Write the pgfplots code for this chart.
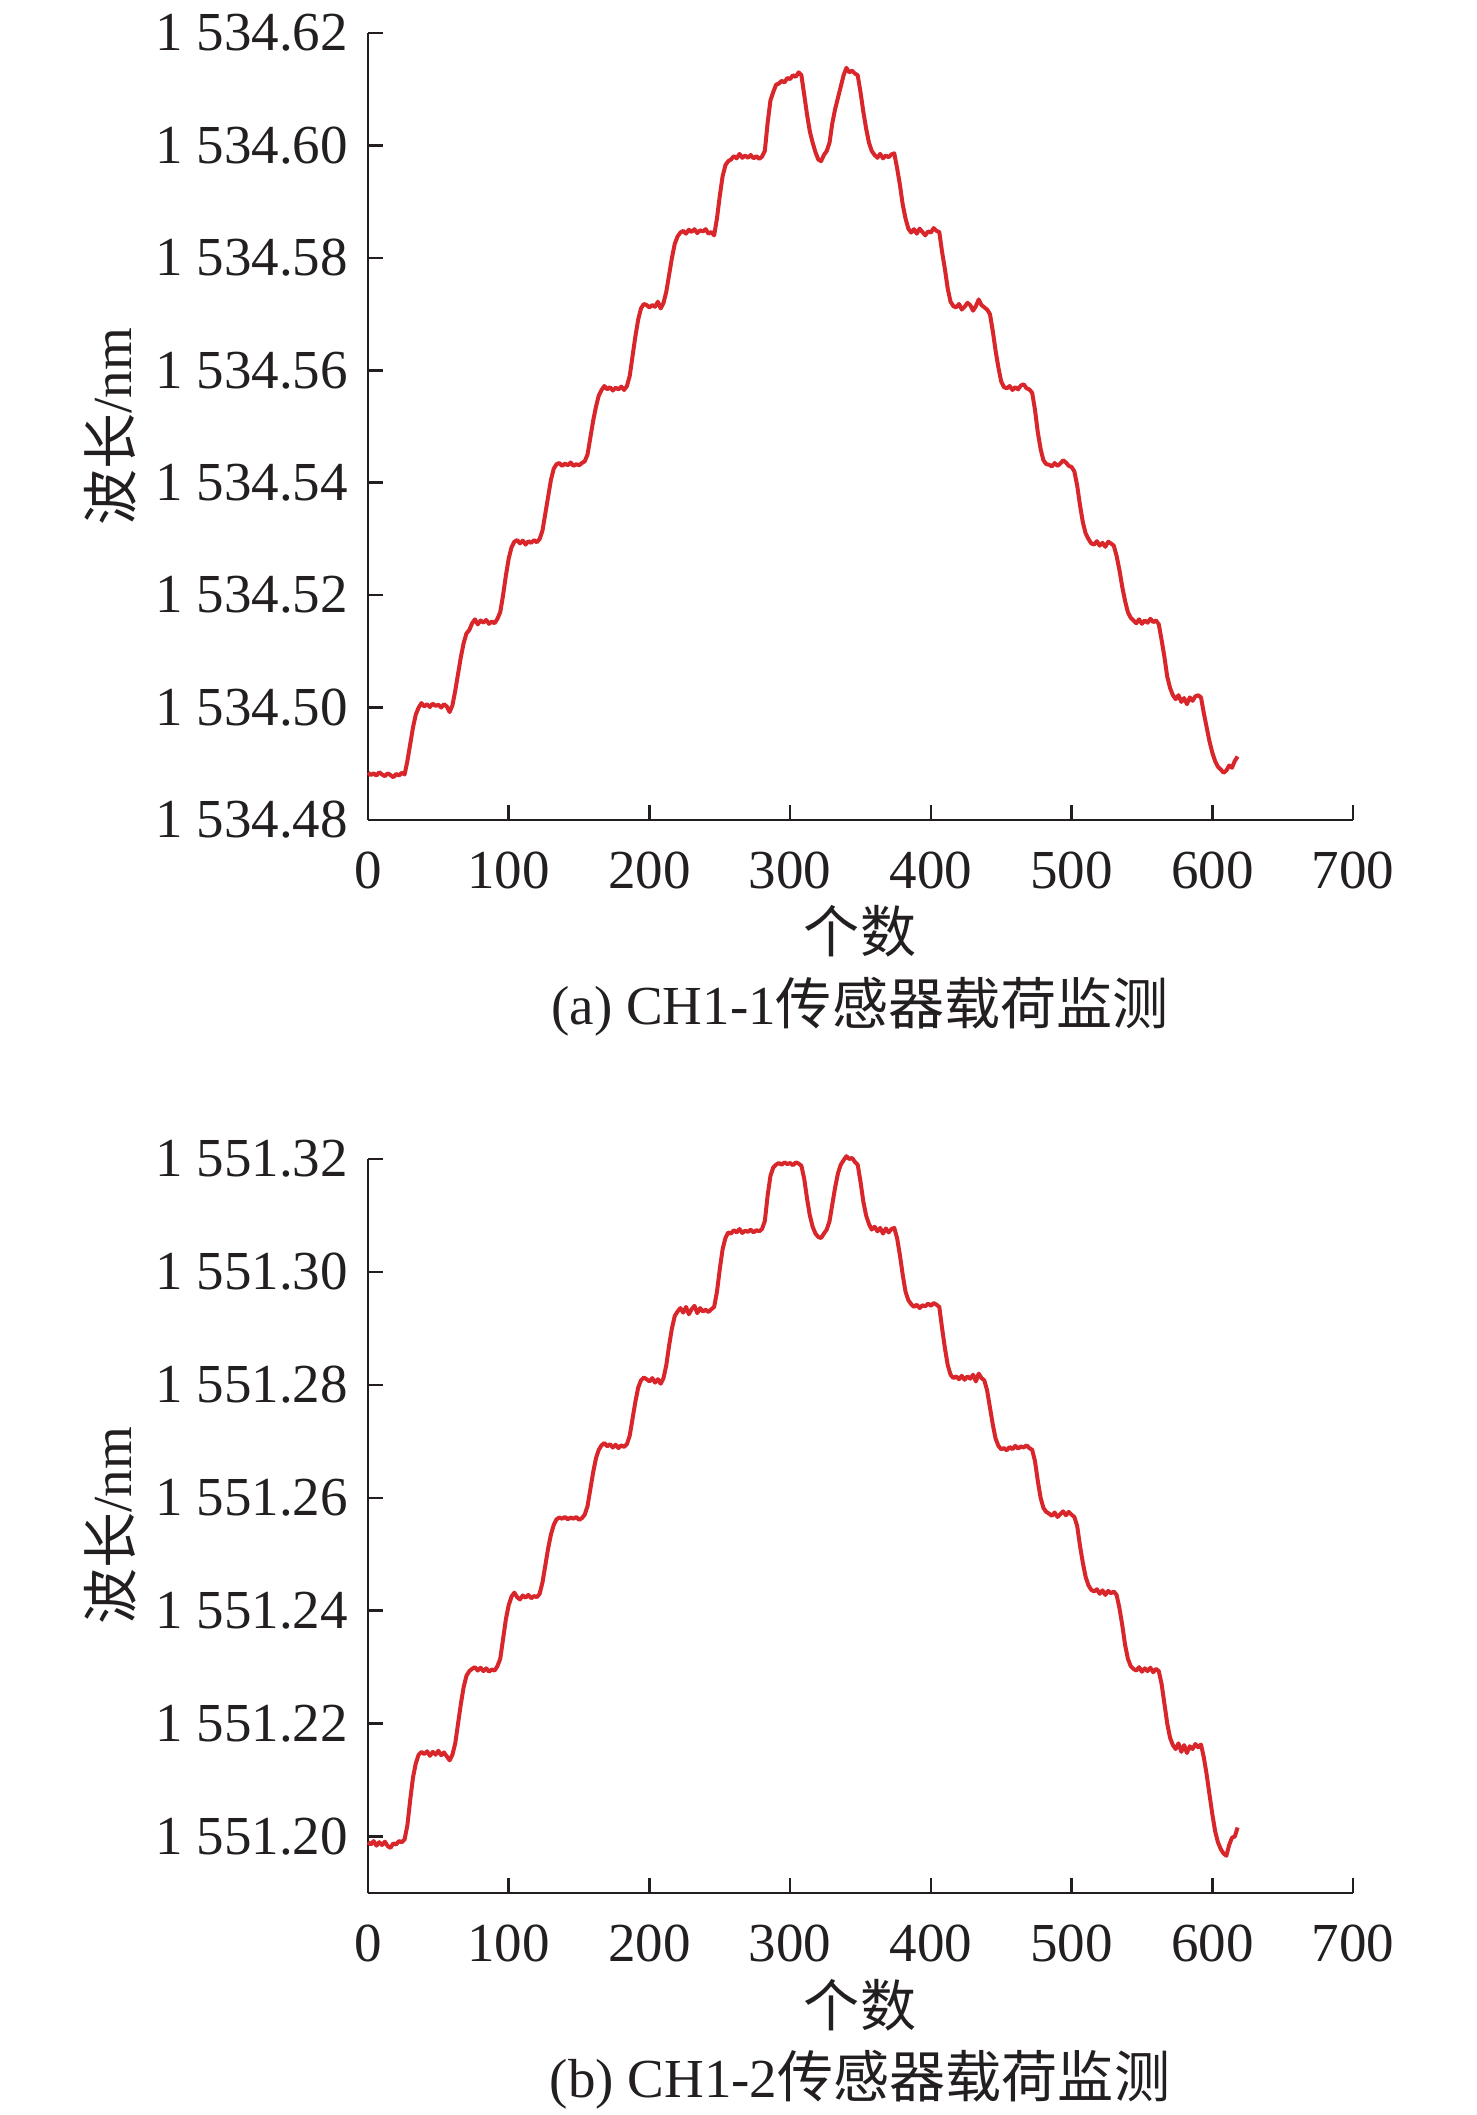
\documentclass[border=0pt]{standalone}
\usepackage{pgfplots}
\usepackage{pgfplotstable}
\pgfplotsset{compat=1.18}
\usepackage{fontspec}
\setmainfont{Liberation Serif}
\newfontfamily\cjk{Noto Sans CJK SC}[Scale=1.02]
\definecolor{linered}{HTML}{D9262B}
\definecolor{axblack}{HTML}{231F20}

\pgfplotstableread[row sep=\\]{
x y\\
0 1534.4884\\ 2 1534.4880\\ 4 1534.4883\\ 6 1534.4879\\ 8 1534.4885\\ 10 1534.4881\\ 12 1534.4878\\ 14 1534.4883\\ 16 1534.4880\\ 18 1534.4876\\ 20 1534.4882\\ 22 1534.4879\\ 24 1534.4884\\ 26 1534.4881\\
28 1534.4905\\ 30 1534.4935\\ 32 1534.4965\\ 34 1534.4988\\ 36 1534.5000\\
38 1534.5008\\ 40 1534.5002\\ 42 1534.5006\\ 44 1534.5001\\ 46 1534.5007\\ 48 1534.5003\\ 50 1534.5005\\ 52 1534.5000\\ 54 1534.5006\\ 56 1534.5002\\ 58 1534.4992\\ 60 1534.5004\\
62 1534.5030\\ 64 1534.5060\\ 66 1534.5090\\ 68 1534.5115\\ 70 1534.5132\\ 72 1534.5138\\
74 1534.5150\\ 76 1534.5157\\ 78 1534.5148\\ 80 1534.5155\\ 82 1534.5151\\ 84 1534.5156\\ 86 1534.5149\\ 88 1534.5153\\ 90 1534.5150\\ 92 1534.5158\\
94 1534.5170\\ 96 1534.5200\\ 98 1534.5235\\ 100 1534.5265\\ 102 1534.5285\\ 104 1534.5295\\
106 1534.5298\\ 108 1534.5292\\ 110 1534.5297\\ 112 1534.5290\\ 114 1534.5296\\ 116 1534.5293\\ 118 1534.5298\\ 120 1534.5294\\ 122 1534.5300\\
124 1534.5315\\ 126 1534.5345\\ 128 1534.5375\\ 130 1534.5405\\ 132 1534.5425\\ 134 1534.5433\\
136 1534.5435\\ 138 1534.5430\\ 140 1534.5434\\ 142 1534.5431\\ 144 1534.5436\\ 146 1534.5430\\ 148 1534.5433\\ 150 1534.5431\\ 152 1534.5435\\ 154 1534.5438\\
156 1534.5450\\ 158 1534.5480\\ 160 1534.5510\\ 162 1534.5535\\ 164 1534.5555\\ 166 1534.5565\\ 168 1534.5572\\
170 1534.5566\\ 172 1534.5570\\ 174 1534.5564\\ 176 1534.5569\\ 178 1534.5566\\ 180 1534.5571\\ 182 1534.5565\\ 184 1534.5572\\
186 1534.5590\\ 188 1534.5625\\ 190 1534.5660\\ 192 1534.5690\\ 194 1534.5710\\ 196 1534.5718\\
198 1534.5716\\ 200 1534.5712\\ 202 1534.5716\\ 204 1534.5713\\ 206 1534.5722\\ 208 1534.5710\\ 210 1534.5720\\
212 1534.5740\\ 214 1534.5770\\ 216 1534.5800\\ 218 1534.5825\\ 220 1534.5838\\ 222 1534.5845\\
224 1534.5848\\ 226 1534.5843\\ 228 1534.5850\\ 230 1534.5846\\ 232 1534.5851\\ 234 1534.5844\\ 236 1534.5849\\ 238 1534.5847\\ 240 1534.5851\\ 242 1534.5843\\ 244 1534.5846\\ 246 1534.5840\\
248 1534.5870\\ 250 1534.5910\\ 252 1534.5945\\ 254 1534.5965\\ 256 1534.5972\\
258 1534.5975\\ 260 1534.5981\\ 262 1534.5977\\ 264 1534.5985\\ 266 1534.5978\\ 268 1534.5982\\ 270 1534.5978\\ 272 1534.5983\\ 274 1534.5977\\ 276 1534.5981\\ 278 1534.5976\\ 280 1534.5980\\
282 1534.5990\\ 284 1534.6040\\ 286 1534.6080\\ 288 1534.6095\\ 290 1534.6108\\ 292 1534.6110\\
294 1534.6115\\ 296 1534.6112\\ 298 1534.6120\\ 300 1534.6118\\ 302 1534.6125\\ 304 1534.6122\\ 306 1534.6130\\ 308 1534.6125\\
310 1534.6090\\ 312 1534.6055\\ 314 1534.6025\\ 316 1534.6005\\ 318 1534.5988\\ 320 1534.5975\\ 322 1534.5972\\ 324 1534.5983\\ 326 1534.5990\\ 328 1534.6005\\ 330 1534.6040\\ 332 1534.6065\\ 334 1534.6085\\ 336 1534.6105\\ 338 1534.6125\\ 340 1534.6138\\ 342 1534.6130\\ 344 1534.6133\\ 346 1534.6128\\ 348 1534.6125\\
350 1534.6095\\ 352 1534.6060\\ 354 1534.6030\\ 356 1534.6005\\ 358 1534.5990\\ 360 1534.5983\\
362 1534.5978\\ 364 1534.5985\\ 366 1534.5977\\ 368 1534.5982\\ 370 1534.5979\\ 372 1534.5984\\ 374 1534.5986\\
376 1534.5960\\ 378 1534.5930\\ 380 1534.5895\\ 382 1534.5870\\ 384 1534.5852\\ 386 1534.5845\\
388 1534.5851\\ 390 1534.5843\\ 392 1534.5852\\ 394 1534.5846\\ 396 1534.5840\\ 398 1534.5847\\ 400 1534.5845\\ 402 1534.5853\\ 404 1534.5848\\ 406 1534.5846\\
408 1534.5810\\ 410 1534.5780\\ 412 1534.5745\\ 414 1534.5722\\ 416 1534.5714\\
418 1534.5712\\ 420 1534.5718\\ 422 1534.5708\\ 424 1534.5713\\ 426 1534.5720\\ 428 1534.5716\\ 430 1534.5706\\ 432 1534.5714\\ 434 1534.5726\\ 436 1534.5716\\ 438 1534.5712\\ 440 1534.5708\\ 442 1534.5700\\
444 1534.5670\\ 446 1534.5635\\ 448 1534.5605\\ 450 1534.5580\\ 452 1534.5570\\ 454 1534.5568\\
456 1534.5572\\ 458 1534.5565\\ 460 1534.5570\\ 462 1534.5566\\ 464 1534.5573\\ 466 1534.5575\\ 468 1534.5568\\ 470 1534.5566\\ 472 1534.5560\\
474 1534.5530\\ 476 1534.5490\\ 478 1534.5460\\ 480 1534.5440\\ 482 1534.5433\\
484 1534.5432\\ 486 1534.5429\\ 488 1534.5435\\ 490 1534.5430\\ 492 1534.5434\\ 494 1534.5440\\ 496 1534.5436\\ 498 1534.5430\\ 500 1534.5428\\ 502 1534.5420\\
504 1534.5395\\ 506 1534.5360\\ 508 1534.5330\\ 510 1534.5310\\ 512 1534.5300\\ 514 1534.5292\\
516 1534.5290\\ 518 1534.5296\\ 520 1534.5288\\ 522 1534.5293\\ 524 1534.5286\\ 526 1534.5295\\ 528 1534.5292\\ 530 1534.5288\\
532 1534.5270\\ 534 1534.5245\\ 536 1534.5215\\ 538 1534.5190\\ 540 1534.5170\\ 542 1534.5160\\ 544 1534.5155\\
546 1534.5150\\ 548 1534.5157\\ 550 1534.5149\\ 552 1534.5155\\ 554 1534.5151\\ 556 1534.5158\\ 558 1534.5152\\ 560 1534.5155\\ 562 1534.5148\\
564 1534.5120\\ 566 1534.5090\\ 568 1534.5055\\ 570 1534.5035\\ 572 1534.5022\\ 574 1534.5015\\
576 1534.5022\\ 578 1534.5010\\ 580 1534.5017\\ 582 1534.5006\\ 584 1534.5018\\ 586 1534.5012\\ 588 1534.5020\\ 590 1534.5022\\ 592 1534.5018\\
594 1534.4990\\ 596 1534.4965\\ 598 1534.4940\\ 600 1534.4920\\ 602 1534.4905\\ 604 1534.4895\\ 606 1534.4890\\ 608 1534.4884\\ 610 1534.4888\\ 612 1534.4897\\ 614 1534.4893\\ 616 1534.4905\\ 618 1534.4913\\
}\dataA

\pgfplotstableread[row sep=\\]{
x y\\
0 1551.1990\\ 2 1551.1986\\ 4 1551.1992\\ 6 1551.1984\\ 8 1551.1990\\ 10 1551.1985\\ 12 1551.1991\\ 14 1551.1983\\ 16 1551.1980\\ 18 1551.1988\\ 20 1551.1986\\ 22 1551.1992\\ 24 1551.1990\\ 26 1551.1995\\
28 1551.2020\\ 30 1551.2065\\ 32 1551.2105\\ 34 1551.2130\\ 36 1551.2145\\ 38 1551.2150\\
40 1551.2146\\ 42 1551.2151\\ 44 1551.2143\\ 46 1551.2150\\ 48 1551.2145\\ 50 1551.2152\\ 52 1551.2144\\ 54 1551.2149\\ 56 1551.2142\\ 58 1551.2135\\ 60 1551.2145\\
62 1551.2165\\ 64 1551.2200\\ 66 1551.2235\\ 68 1551.2265\\ 70 1551.2285\\ 72 1551.2293\\
74 1551.2297\\ 76 1551.2300\\ 78 1551.2294\\ 80 1551.2299\\ 82 1551.2293\\ 84 1551.2298\\ 86 1551.2292\\ 88 1551.2296\\ 90 1551.2294\\ 92 1551.2302\\
94 1551.2315\\ 96 1551.2350\\ 98 1551.2385\\ 100 1551.2410\\ 102 1551.2425\\ 104 1551.2432\\
106 1551.2424\\ 108 1551.2420\\ 110 1551.2427\\ 112 1551.2423\\ 114 1551.2428\\ 116 1551.2422\\ 118 1551.2426\\ 120 1551.2424\\ 122 1551.2430\\
124 1551.2450\\ 126 1551.2480\\ 128 1551.2510\\ 130 1551.2535\\ 132 1551.2552\\ 134 1551.2562\\
136 1551.2565\\ 138 1551.2563\\ 140 1551.2566\\ 142 1551.2562\\ 144 1551.2565\\ 146 1551.2563\\ 148 1551.2566\\ 150 1551.2561\\ 152 1551.2564\\ 154 1551.2570\\
156 1551.2585\\ 158 1551.2615\\ 160 1551.2645\\ 162 1551.2670\\ 164 1551.2685\\ 166 1551.2693\\ 168 1551.2697\\
170 1551.2691\\ 172 1551.2695\\ 174 1551.2689\\ 176 1551.2694\\ 178 1551.2688\\ 180 1551.2693\\ 182 1551.2690\\ 184 1551.2695\\
186 1551.2710\\ 188 1551.2740\\ 190 1551.2770\\ 192 1551.2795\\ 194 1551.2808\\ 196 1551.2813\\
198 1551.2810\\ 200 1551.2806\\ 202 1551.2812\\ 204 1551.2804\\ 206 1551.2810\\ 208 1551.2802\\ 210 1551.2812\\
212 1551.2835\\ 214 1551.2870\\ 216 1551.2900\\ 218 1551.2922\\ 220 1551.2930\\ 222 1551.2936\\
224 1551.2928\\ 226 1551.2938\\ 228 1551.2925\\ 230 1551.2934\\ 232 1551.2940\\ 234 1551.2927\\ 236 1551.2936\\ 238 1551.2930\\ 240 1551.2933\\ 242 1551.2929\\ 244 1551.2934\\ 246 1551.2938\\
248 1551.2965\\ 250 1551.3005\\ 252 1551.3040\\ 254 1551.3060\\ 256 1551.3070\\
258 1551.3068\\ 260 1551.3074\\ 262 1551.3070\\ 264 1551.3076\\ 266 1551.3069\\ 268 1551.3073\\ 270 1551.3071\\ 272 1551.3075\\ 274 1551.3070\\ 276 1551.3074\\ 278 1551.3072\\ 280 1551.3076\\
282 1551.3090\\ 284 1551.3135\\ 286 1551.3170\\ 288 1551.3185\\ 290 1551.3190\\
292 1551.3193\\ 294 1551.3190\\ 296 1551.3194\\ 298 1551.3191\\ 300 1551.3193\\ 302 1551.3189\\ 304 1551.3194\\ 306 1551.3192\\ 308 1551.3188\\
310 1551.3165\\ 312 1551.3130\\ 314 1551.3100\\ 316 1551.3080\\ 318 1551.3068\\ 320 1551.3062\\ 322 1551.3060\\ 324 1551.3068\\ 326 1551.3075\\ 328 1551.3090\\ 330 1551.3120\\ 332 1551.3150\\ 334 1551.3175\\ 336 1551.3190\\ 338 1551.3198\\ 340 1551.3205\\ 342 1551.3200\\ 344 1551.3202\\ 346 1551.3195\\ 348 1551.3190\\
350 1551.3160\\ 352 1551.3125\\ 354 1551.3100\\ 356 1551.3085\\ 358 1551.3075\\ 360 1551.3080\\
362 1551.3072\\ 364 1551.3078\\ 366 1551.3068\\ 368 1551.3077\\ 370 1551.3070\\ 372 1551.3076\\ 374 1551.3078\\
376 1551.3060\\ 378 1551.3030\\ 380 1551.2995\\ 382 1551.2965\\ 384 1551.2950\\ 386 1551.2943\\
388 1551.2938\\ 390 1551.2942\\ 392 1551.2936\\ 394 1551.2941\\ 396 1551.2939\\ 398 1551.2944\\ 400 1551.2940\\ 402 1551.2945\\ 404 1551.2942\\ 406 1551.2938\\
408 1551.2900\\ 410 1551.2865\\ 412 1551.2835\\ 414 1551.2818\\ 416 1551.2812\\
418 1551.2815\\ 420 1551.2810\\ 422 1551.2816\\ 424 1551.2809\\ 426 1551.2815\\ 428 1551.2811\\ 430 1551.2818\\ 432 1551.2806\\ 434 1551.2820\\ 436 1551.2812\\ 438 1551.2808\\
440 1551.2790\\ 442 1551.2760\\ 444 1551.2730\\ 446 1551.2705\\ 448 1551.2692\\ 450 1551.2686\\ 452 1551.2688\\
454 1551.2684\\ 456 1551.2690\\ 458 1551.2686\\ 460 1551.2692\\ 462 1551.2687\\ 464 1551.2691\\ 466 1551.2689\\ 468 1551.2693\\ 470 1551.2688\\ 472 1551.2685\\
474 1551.2665\\ 476 1551.2630\\ 478 1551.2600\\ 480 1551.2582\\ 482 1551.2575\\ 484 1551.2572\\
486 1551.2568\\ 488 1551.2574\\ 490 1551.2566\\ 492 1551.2571\\ 494 1551.2576\\ 496 1551.2569\\ 498 1551.2575\\ 500 1551.2570\\ 502 1551.2566\\
504 1551.2550\\ 506 1551.2515\\ 508 1551.2485\\ 510 1551.2460\\ 512 1551.2445\\ 514 1551.2437\\ 516 1551.2434\\
518 1551.2438\\ 520 1551.2430\\ 522 1551.2436\\ 524 1551.2428\\ 526 1551.2435\\ 528 1551.2431\\ 530 1551.2434\\ 532 1551.2428\\
534 1551.2405\\ 536 1551.2375\\ 538 1551.2340\\ 540 1551.2315\\ 542 1551.2302\\ 544 1551.2297\\
546 1551.2294\\ 548 1551.2300\\ 550 1551.2292\\ 552 1551.2298\\ 554 1551.2293\\ 556 1551.2299\\ 558 1551.2291\\ 560 1551.2297\\ 562 1551.2293\\
564 1551.2270\\ 566 1551.2235\\ 568 1551.2200\\ 570 1551.2175\\ 572 1551.2162\\ 574 1551.2155\\
576 1551.2165\\ 578 1551.2150\\ 580 1551.2162\\ 582 1551.2148\\ 584 1551.2160\\ 586 1551.2155\\ 588 1551.2164\\ 590 1551.2158\\ 592 1551.2163\\
594 1551.2140\\ 596 1551.2110\\ 598 1551.2075\\ 600 1551.2040\\ 602 1551.2010\\ 604 1551.1990\\ 606 1551.1978\\ 608 1551.1970\\ 610 1551.1966\\ 612 1551.1985\\ 614 1551.1998\\ 616 1551.2000\\ 618 1551.2016\\
}\dataB

% exact offsets (l3fp) so that pgf's limited float precision does not matter
\pgfplotstablecreatecol[create col/assign/.code={%
  \edef\entry{\fpeval{\thisrow{y}-1534}}%
  \pgfkeyslet{/pgfplots/table/create col/next content}\entry}]{yy}\dataA
\pgfplotstablecreatecol[create col/assign/.code={%
  \edef\entry{\fpeval{\thisrow{y}-1551}}%
  \pgfkeyslet{/pgfplots/table/create col/next content}\entry}]{yy}\dataB

\pgfplotsset{
  panel/.style={
    scale only axis,
    width=295.5pt,
    xmin=0, xmax=700,
    xtick={0,100,...,700},
    axis lines*=left,
    axis line style={axblack, line width=0.75pt, -},
    tick style={axblack, line width=0.75pt},
    major tick length=4.5pt,
    tick align=inside,
    clip=false,
    ticklabel style={font=\fontsize{16.5}{18}\selectfont, text=axblack},
    /pgf/number format/assume math mode=true,
    xticklabel style={anchor=center, yshift=-15pt},
    yticklabel style={xshift=-2.5pt},
  }
}

\begin{document}
\begin{tikzpicture}[x=1pt,y=1pt]
\path[use as bounding box] (0,0) rectangle (442.8,-634.5);

\begin{axis}[panel,
  at={(110.4pt,-246pt)}, anchor=south west,
  height=236.1pt,
  ymin=0.48, ymax=0.62,
  ytick={0.48,0.50,0.52,0.54,0.56,0.58,0.60,0.62},
  yticklabels={1 534.48,1 534.50,1 534.52,1 534.54,1 534.56,1 534.58,1 534.60,1 534.62},
]
\addplot[linered, line width=1.2pt, line join=round, no markers] table[x=x, y=yy]{\dataA};
\end{axis}

\begin{axis}[panel,
  at={(110.4pt,-567.9pt)}, anchor=south west,
  height=220.2pt,
  ymin=0.19, ymax=0.32,
  ytick={0.20,0.22,0.24,0.26,0.28,0.30,0.32},
  yticklabels={1 551.20,1 551.22,1 551.24,1 551.26,1 551.28,1 551.30,1 551.32},
]
\addplot[linered, line width=1.2pt, line join=round, no markers] table[x=x, y=yy]{\dataB};
\end{axis}

\begin{scope}[every node/.style={text=axblack, inner sep=0pt, font=\fontsize{16.5}{18}\selectfont}]
% panel a
\node[rotate=90] at (33,-128) {{\cjk 波长}/nm};
\node at (258,-279.5) {\cjk 个数};
\node at (258,-302) {(a) CH1-1{\cjk 传感器载荷监测}};
% panel b
\node[rotate=90] at (33,-457.8) {{\cjk 波长}/nm};
\node at (258,-601.5) {\cjk 个数};
\node at (258,-624) {(b) CH1-2{\cjk 传感器载荷监测}};
\end{scope}
\end{tikzpicture}
\end{document}
